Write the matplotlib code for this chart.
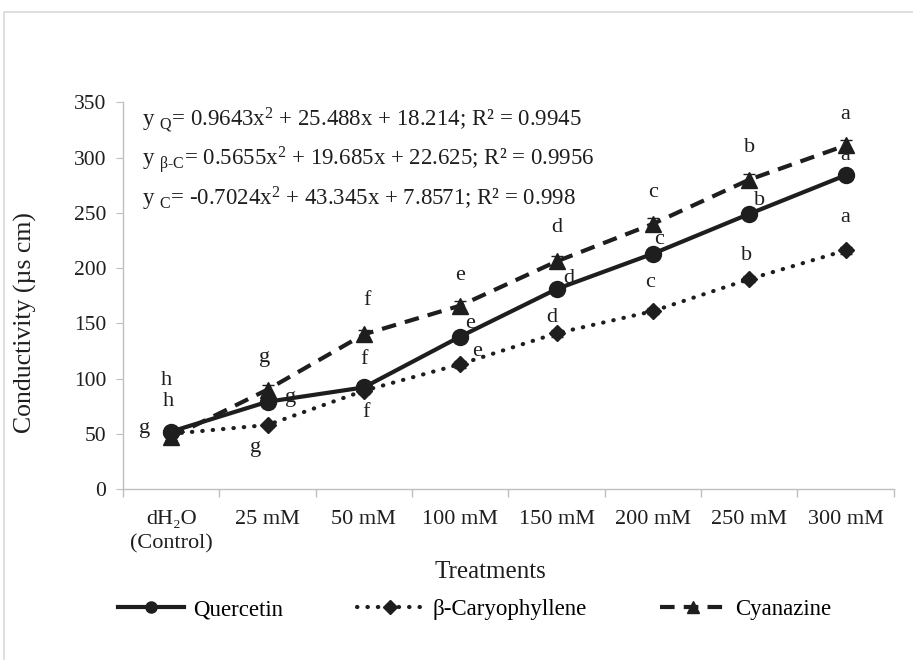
import matplotlib.pyplot as plt
from matplotlib.lines import Line2D
from matplotlib.patches import Rectangle

plt.rcParams['font.family'] = ['Liberation Serif', 'DejaVu Serif']
plt.rcParams['mathtext.fontset'] = 'custom'
plt.rcParams['mathtext.rm'] = 'Liberation Serif'
plt.rcParams['mathtext.it'] = 'Liberation Serif:italic'

treatments = ['dH\u2082O\n(Control)', '25 mM', '50 mM', '100 mM', '150 mM', '200 mM', '250 mM', '300 mM']
quercetin = [52, 79, 92, 138, 181, 213, 249, 284]
caryophyllene = [50, 58, 89, 113, 141, 161, 190, 216]
cyanazine = [47, 90, 140, 166, 206, 240, 280, 311]
err_q = [2, 3, 3, 3, 3, 3, 3, 3]
err_bc = [2, 2, 3, 3, 3, 3, 3, 3]
err_c = [3, 4, 4, 4, 5, 5, 5, 5]

letters_q = ['h', 'g', 'f', 'e', 'd', 'c', 'b', 'a']
letters_bc = ['g', 'g', 'f', 'e', 'd', 'c', 'b', 'a']
letters_c = ['h', 'g', 'f', 'e', 'd', 'c', 'b', 'a']

equations = [
    r'y $_{\mathrm{Q}}$= 0.9643x$^{2}$ + 25.488x + 18.214; R² = 0.9945',
    r'y $_{\mathrm{\beta\text{-}C}}$= 0.5655x$^{2}$ + 19.685x + 22.625; R² = 0.9956',
    r'y $_{\mathrm{C}}$= -0.7024x$^{2}$ + 43.345x + 7.8571; R² = 0.998',
]

ink = '#1e1e1e'
grey = '#bfbfbf'

fig = plt.figure(figsize=(9.13, 6.6), dpi=100)
ax = fig.add_axes([0.1347, 0.259, 0.8443, 0.586])
x = list(range(len(treatments)))

style_q = dict(color=ink, lw=3, marker='o')
style_bc = dict(color=ink, lw=3, marker='D', dashes=(0.1, 2.4), dash_capstyle='round')
style_c = dict(color=ink, lw=3, marker='^', dashes=(3.5, 2.2))

ax.errorbar(x, quercetin, yerr=err_q, ms=11.5, capsize=4, elinewidth=1, **style_q)
ax.errorbar(x, caryophyllene, yerr=err_bc, ms=8, capsize=4, elinewidth=1, **style_bc)
ax.errorbar(x, cyanazine, yerr=err_c, ms=12, capsize=4, elinewidth=1, **style_c)

# significance letters (offsets in pixels)
off_q = [(-3, 30), (23, 4), (0, 28), (10, 13), (12, 11), (6, 14), (10, 13), (0, 20)]
off_bc = [(-27, 5), (-12, -23), (2, -22), (17, 13), (-5, 16), (-3, 29), (-3, 24), (0, 33)]
off_c = [(-5, 57), (-3, 32), (3, 34), (0, 30), (0, 34), (0, 31), (0, 32), (0, 31)]
for vals, labs, offs in [(quercetin, letters_q, off_q), (caryophyllene, letters_bc, off_bc),
                         (cyanazine, letters_c, off_c)]:
    for i in range(len(vals)):
        ax.annotate(labs[i], (x[i], vals[i]), xytext=offs[i], textcoords='offset pixels',
                    ha='center', va='center', fontsize=16, color=ink)

for k, eq in enumerate(equations):
    ax.text(0.025, 0.955 - k * 0.103, eq, transform=ax.transAxes, fontsize=16.5,
            color=ink, va='center', ha='left')

ax.set_xlim(-0.5, 7.5)
ax.set_ylim(0, 350)
ax.set_yticks(range(0, 351, 50))
ax.set_xticks(x)
ax.set_xticklabels(treatments, fontsize=16, color=ink, linespacing=1.35, va='top')
ax.set_xticks([i - 0.5 for i in range(len(treatments) + 1)], minor=True)
ax.tick_params(axis='x', which='major', length=0, pad=15)
ax.tick_params(axis='x', which='minor', length=6, color=grey, width=1)
ax.tick_params(axis='y', length=5, color=grey, labelsize=15.5, labelcolor=ink, pad=7)
for s in ['top', 'right']:
    ax.spines[s].set_visible(False)
for s in ['left', 'bottom']:
    ax.spines[s].set_color(grey)
    ax.spines[s].set_linewidth(1)

ax.set_ylabel('Conductivity (µs cm)', fontsize=18.5, color=ink)
ax.yaxis.set_label_coords(-0.111, 0.43)
ax.set_xlabel('Treatments', fontsize=18, color=ink)
ax.xaxis.set_label_coords(0.476, -0.185)

handles = [Line2D([], [], ms=8, **style_q),
           Line2D([], [], ms=7, **style_bc),
           Line2D([], [], ms=8, **style_c)]
fig.legend(handles, ['Quercetin', '\u03b2-Caryophyllene', 'Cyanazine'],
           loc='center', bbox_to_anchor=(0.52, 0.076), ncol=3, frameon=False,
           fontsize=16.5, handlelength=2.9, handletextpad=0.4, columnspacing=3.2)

fig.patches.append(Rectangle((0.0044, -0.05), 1.2, 1.05 - 12 / 660, transform=fig.transFigure,
                             fill=False, edgecolor='#d9d9d9', lw=1.2))

fig.savefig('out.png', dpi=100, facecolor='white')
